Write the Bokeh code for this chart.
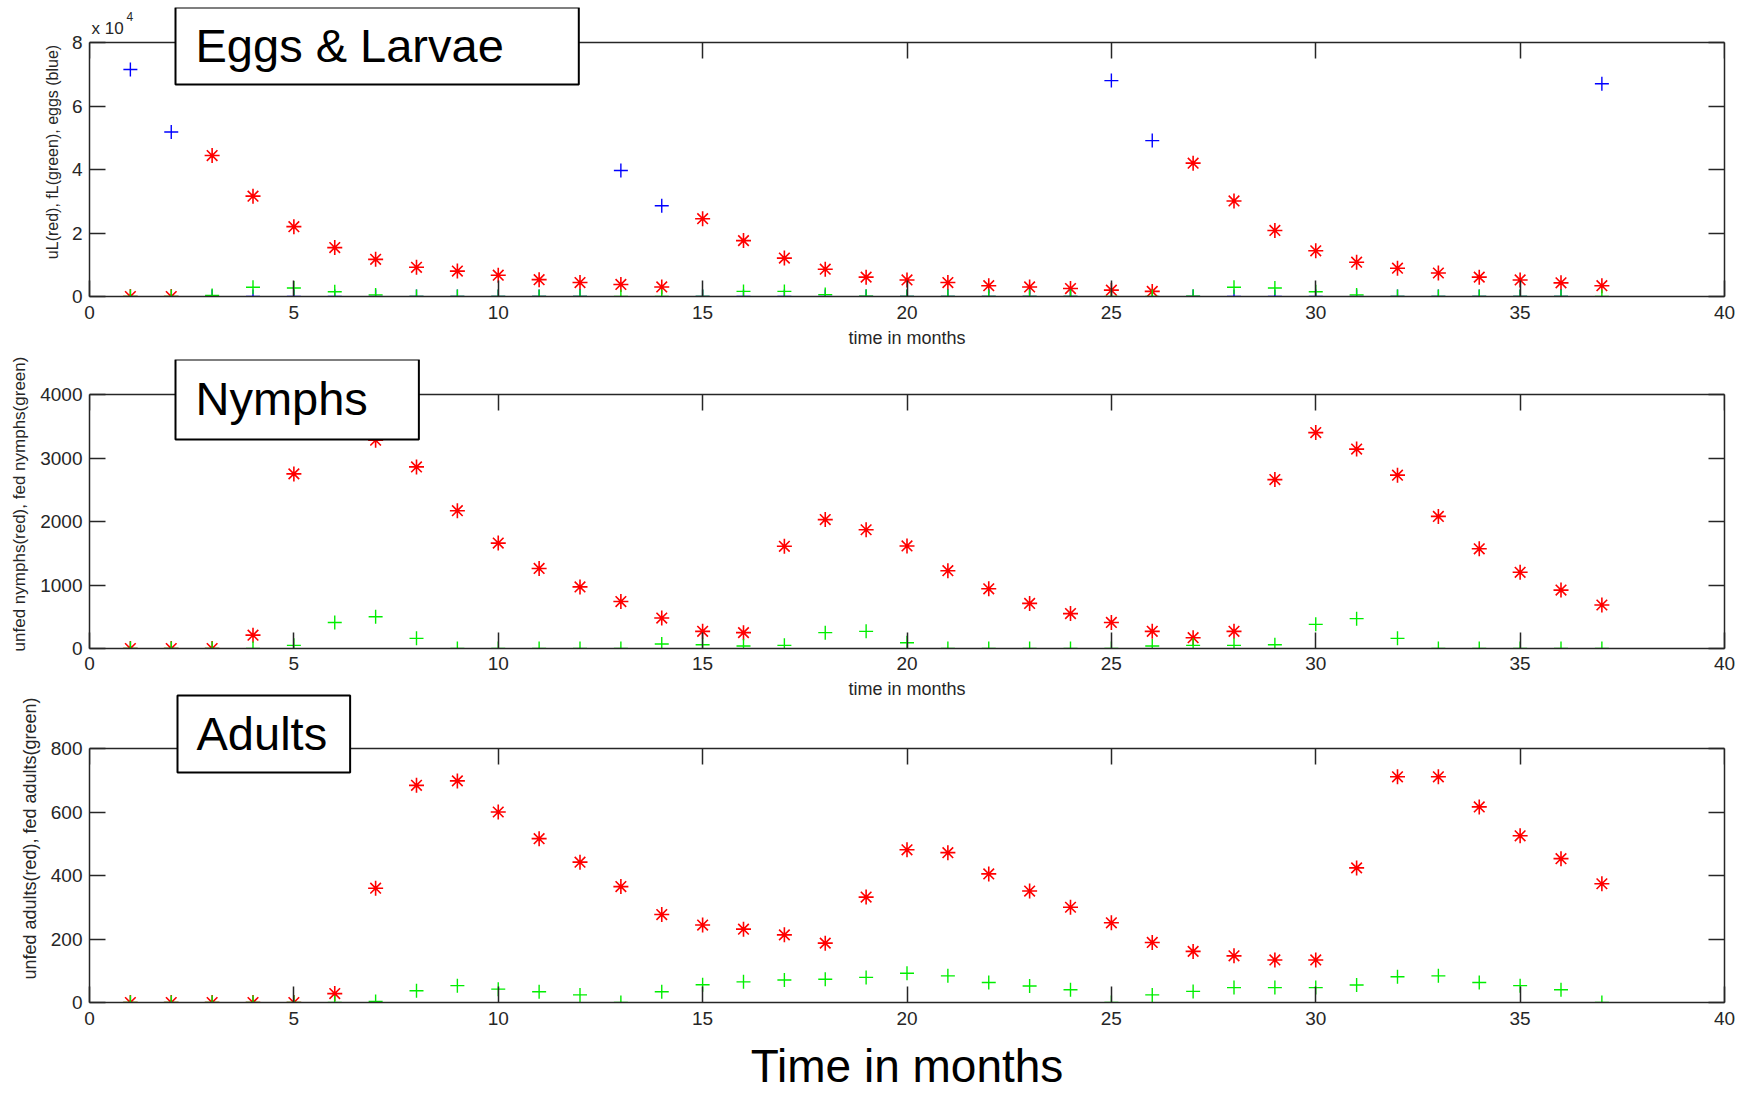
from bokeh.plotting import figure
from bokeh.layouts import column
from bokeh.models import Label, LinearAxis, FixedTicker, Range1d
from bokeh.embed import file_html
from bokeh.resources import INLINE

# ---------------- data ----------------
months = list(range(1, 38))

# Eggs & larvae panel (counts)
eggs_blue = [71500, 51800, 0, 0, 0, 0, 0, 0, 0, 0, 0, 0, 39700, 28600,
             0, 0, 0, 0, 0, 0, 0, 0, 0, 0, 68000, 49100,
             0, 0, 0, 0, 0, 0, 0, 0, 0, 0, 67000]
uL_red = [0, 0, 44400, 31600, 22000, 15400, 11700, 9200, 8000, 6700, 5300, 4400,
          3800, 3000, 24500, 17600, 12100, 8600, 6100, 5200, 4400, 3400, 3000,
          2500, 2000, 1600, 42000, 30100, 20800, 14400, 10800, 8900, 7400, 6100,
          5200, 4300, 3400]
fL_green = [0, 0, 300, 2900, 2700, 1500, 500, 0, 0, 0, 0, 0, 0, 0, 0,
            1600, 1600, 600, 100, 0, 0, 0, 0, 0, 0, 0,
            100, 2900, 2700, 1500, 500, 0, 0, 0, 0, 0, 0]

# Nymphs panel
unfed_nymphs = [0, 0, 0, 210, 2750, 3500, 3280, 2860, 2170, 1660, 1260, 970, 740,
                480, 270, 250, 1610, 2030, 1870, 1615, 1225, 940, 710, 550, 410,
                270, 170, 270, 2660, 3400, 3140, 2730, 2080, 1570, 1200, 920, 685]
fed_nymphs = [0, 0, 0, 0, 50, 410, 500, 160, 0, 0, 0, 0, 0, 70, 60, 40, 50, 250,
              270, 90, 0, 0, 0, 0, 0, 40, 50, 50, 60, 380, 470, 160, 0, 0, 0, 0, 0]

# Adults panel
unfed_adults = [0, 0, 0, 0, 0, 28, 360, 684, 698, 600, 516, 442, 365, 277, 244,
                231, 213, 187, 332, 481, 472, 405, 351, 300, 251, 189, 161, 147,
                134, 134, 424, 711, 711, 616, 525, 453, 374]
fed_adults = [0, 0, 0, 0, 0, 0, 3, 37, 53, 42, 34, 24, 0, 34, 56, 65, 71, 73, 79,
              92, 84, 63, 52, 40, 0, 24, 35, 47, 47, 47, 55, 81, 84, 63, 53, 40, 0]

x_ticks = [0, 5, 10, 15, 20, 25, 30, 35, 40]
egg_ticks = [0, 20000, 40000, 60000, 80000]
egg_tick_labels = ["0", "2", "4", "6", "8"]
nymph_ticks = [0, 1000, 2000, 3000, 4000]
adult_ticks = [0, 200, 400, 600, 800]

titles = ["Eggs & Larvae", "Nymphs", "Adults"]
ylabels = ["uL(red), fL(green), eggs (blue)",
           "unfed nymphs(red), fed nymphs(green)",
           "unfed adults(red), fed adults(green)"]
small_xlabel = "time in months"
big_xlabel = "Time in months"

# ---------------- styling ----------------
TICK_FONT = "Liberation Sans"
TEXT_FONT = "Liberation Sans"
AX_COLOR = "#262626"
FRAME_W = 1635
AXES_H = 254          # height of the boxed axes area in pixels


def style_axis(ax, show_labels, standoff):
    ax.axis_line_color = AX_COLOR
    ax.axis_line_width = 1.5
    ax.major_tick_line_color = AX_COLOR
    ax.major_tick_line_width = 1.5
    ax.major_tick_in = 16
    ax.major_tick_out = 0
    ax.minor_tick_line_color = None
    ax.major_label_text_font = TICK_FONT
    if show_labels:
        ax.major_label_text_color = AX_COLOR
        ax.major_label_text_font_size = "19px"
        ax.major_label_standoff = standoff
    else:
        ax.major_label_text_color = None
        ax.major_label_text_font_size = "1px"
        ax.major_label_standoff = 0


def make_panel(ymax, yticks, ylabel, ylabel_size, frame_h, top_border,
               bottom_border, xtick_standoff=9, xlabel=None, xlabel_size="18px",
               xlabel_standoff=6, xlabel_color=AX_COLOR, overrides=None):
    # the frame is taller than the boxed axes so the title box fits inside it
    p = figure(frame_width=FRAME_W, frame_height=frame_h,
               x_range=Range1d(0, 40),
               y_range=Range1d(0, ymax * frame_h / AXES_H),
               min_border_left=89, min_border_right=12,
               min_border_top=top_border, min_border_bottom=bottom_border,
               output_backend="svg", toolbar_location=None,
               background_fill_color="white", border_fill_color="white",
               outline_line_color=None)
    p.xgrid.visible = False
    p.ygrid.visible = False

    p.xaxis.ticker = FixedTicker(ticks=x_ticks)
    p.yaxis.ticker = FixedTicker(ticks=yticks)
    if overrides:
        p.yaxis.major_label_overrides = overrides
    for ax in p.xaxis:
        style_axis(ax, True, xtick_standoff)
        if xlabel:
            ax.axis_label = xlabel
            ax.axis_label_text_font = TEXT_FONT
            ax.axis_label_text_font_size = xlabel_size
            ax.axis_label_text_font_style = "normal"
            ax.axis_label_text_color = xlabel_color
            ax.axis_label_standoff = xlabel_standoff
    for ax in p.yaxis:
        style_axis(ax, True, 7)
        ax.bounds = (0, ymax)
        ax.axis_label = ylabel
        ax.axis_label_text_font = TEXT_FONT
        ax.axis_label_text_font_size = ylabel_size
        ax.axis_label_text_font_style = "normal"
        ax.axis_label_text_color = AX_COLOR
        ax.axis_label_standoff = 8

    top = LinearAxis(ticker=FixedTicker(ticks=x_ticks), fixed_location=ymax,
                     bounds=(0, 40))
    style_axis(top, False, 0)
    p.add_layout(top, "above")
    right = LinearAxis(ticker=FixedTicker(ticks=yticks), bounds=(0, ymax))
    style_axis(right, False, 0)
    p.add_layout(right, "right")
    return p


def add_points(p, xs, red, green, blue=None):
    p.scatter(xs, red, marker="asterisk", size=15, line_color="#ff0000",
              line_width=1.6)
    if blue is not None:
        p.scatter(xs, blue, marker="cross", size=14, line_color="#0000ff",
                  line_width=1.4)
    p.scatter(xs, green, marker="cross", size=14, line_color="#00ee00",
              line_width=1.4)


def title_box(p, text, x, y, pad):
    p.add_layout(Label(x=x, y=y, x_units="screen", y_units="screen", text=text,
                       anchor="top_left",
                       text_font=TEXT_FONT, text_font_size="47px",
                       text_color="black", text_align="left",
                       background_fill_color="white",
                       border_line_color="black", border_line_width=2,
                       padding=pad))


# ---------------- panel 1 ----------------
p1 = make_panel(80000, egg_ticks, ylabels[0], "16px", 289, 7, 57,
                xlabel=small_xlabel, xlabel_size="18px", xlabel_standoff=6,
                overrides={t: s for t, s in zip(egg_ticks, egg_tick_labels)})
add_points(p1, months, uL_red, fL_green, eggs_blue)
title_box(p1, titles[0], 86, 289, dict(left=20, right=75, top=11, bottom=13))
p1.add_layout(Label(x=2, y=268, x_units="screen", y_units="screen",
                    text="x 10", text_font=TICK_FONT, text_font_size="17px",
                    text_color=AX_COLOR, text_baseline="alphabetic"))
p1.add_layout(Label(x=37, y=280, x_units="screen", y_units="screen",
                    text="4", text_font=TICK_FONT, text_font_size="12px",
                    text_color=AX_COLOR, text_baseline="alphabetic"))

# ---------------- panel 2 ----------------
p2 = make_panel(4000, nymph_ticks, ylabels[1], "17px", 289, 6, 26,
                xtick_standoff=8)
add_points(p2, months, unfed_nymphs, fed_nymphs)
title_box(p2, titles[1], 86, 289, dict(left=20, right=51, top=12, bottom=15))

# ---------------- panel 3 ----------------
p3 = make_panel(800, adult_ticks, ylabels[2], "18px", 328, 0, 90,
                xlabel=big_xlabel, xlabel_size="46px", xlabel_standoff=12,
                xlabel_color="black")
add_points(p3, months, unfed_adults, fed_adults)
title_box(p3, titles[2], 88, 307, dict(left=19, right=23, top=11, bottom=13))
# x-axis caption belonging to the nymph panel (sits just above this panel)
p3.add_layout(Label(x=FRAME_W / 2, y=314, x_units="screen", y_units="screen",
                    text=small_xlabel, text_font=TEXT_FONT,
                    text_font_size="18px", text_color=AX_COLOR,
                    text_align="center", text_baseline="alphabetic"))

layout = column(p1, p2, p3, spacing=0)
open("out.html", "w").write(file_html(layout, INLINE))
